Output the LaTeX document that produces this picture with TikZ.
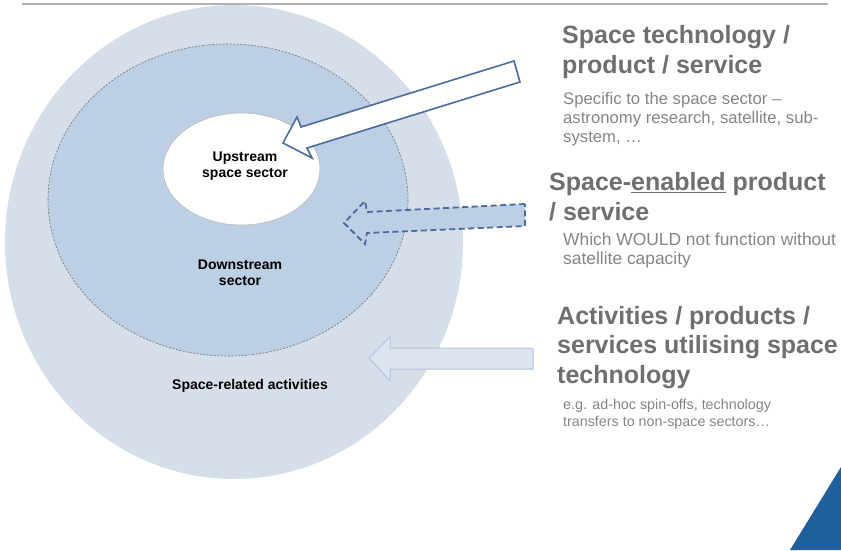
\documentclass[tikz,border=0pt]{standalone}
\usepackage{fontspec}
\setmainfont{Liberation Sans}
\definecolor{outerblue}{HTML}{D6DEE9}
\definecolor{midblue}{HTML}{BDCFE5}
\definecolor{edgeblue}{HTML}{4A6C9E}
\definecolor{paleblue}{HTML}{DCE4EF}
\definecolor{paleedge}{HTML}{B3C5DE}
\definecolor{headgray}{HTML}{6F6F6F}
\definecolor{subgray}{HTML}{858585}
\definecolor{cornerblue}{HTML}{1F5F9B}
\begin{document}
\begin{tikzpicture}[x=1pt,y=-1pt,
    circlabel/.style={font=\bfseries\fontsize{14}{16}\selectfont,align=center,text=black,inner sep=0},
    headtext/.style={anchor=base west,align=left,inner sep=0,text=headgray,font=\bfseries\fontsize{25}{29.5}\selectfont},
    subtext/.style={anchor=base west,align=left,inner sep=0,text=subgray,font=\fontsize{16.7}{19}\selectfont}]
                \useasboundingbox (0,0) rectangle (841,550);
                \draw[black!30, line width=2] (22,4)--(828,4);
                \fill[outerblue] (234,242) ellipse [x radius=229, y radius=237];
                \filldraw[fill=midblue, draw=black!55, line width=0.6, dash pattern=on 2pt off 1.5pt] (228,200) ellipse [x radius=180, y radius=156];
                \filldraw[fill=white, draw=black!30, line width=0.5] (241.5,169) ellipse [x radius=78.5, y radius=56];
                \node[circlabel] (upstream) at (245,166) {Upstream\\space sector};
                \node[circlabel] (downstream) at (240,273) {Downstream\\sector};
                \node[circlabel] (related) at (250,386) {Space-related activities};
                \filldraw[fill=white, draw=edgeblue, line width=1.6, line join=miter] (514,61)--(301,127)--(297,117)--(283,143)--(312,158)--(307,148)--(520,82)--cycle;
                \filldraw[fill=midblue, draw=edgeblue, line width=1.8, dash pattern=on 6pt off 3.5pt] (525,204)--(367,212)--(365,201)--(344,223)--(365,244)--(367,233)--(525,226)--cycle;
                \filldraw[fill=paleblue, draw=paleedge, line width=1] (533,348)--(390,348)--(390,337)--(369,358)--(390,381)--(390,369)--(533,369)--cycle;
                \node[headtext] (techhead) at (562,73) {Space technology /\\product / service};
                \node[subtext] (techsub) at (563,142) {Specific to the space sector –\\astronomy research, satellite, sub-\\system, …};
                \node[headtext] (enabledhead) at (549,220) {Space-\underline{enabled} product\\/ service};
                \node[subtext, font=\fontsize{17.4}{19}\selectfont] (enabledsub) at (563,264) {Which WOULD not function without\\satellite capacity};
                \node[headtext] (utilhead) at (557,383) {Activities / products /\\services utilising space\\technology};
                \node[subtext, font=\fontsize{14.3}{17}\selectfont] (utilsub) at (563,426) {e.g. ad-hoc spin-offs, technology\\transfers to non-space sectors…};
                \fill[cornerblue] (790,550)--(841,467)--(841,550)--cycle;
                \end{tikzpicture}
\end{document}
